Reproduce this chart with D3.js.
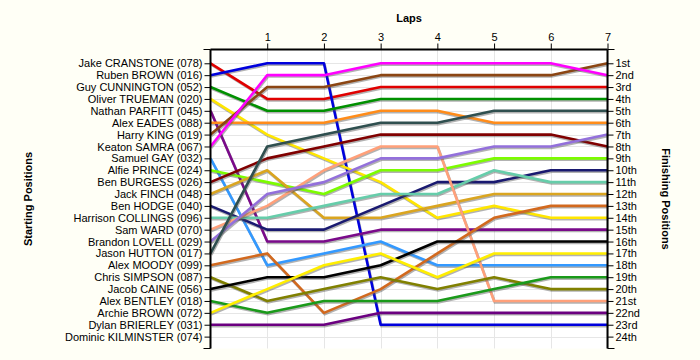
<!DOCTYPE html>
<html>
<head>
<meta charset="utf-8">
<script src="https://cdn.jsdelivr.net/npm/d3@7"></script>
<style>
  body { margin: 0; background: #fffff6; }
  svg { display: block; font-family: "Liberation Sans", Arial, sans-serif; }
</style>
</head>
<body>
<div id="chart"></div>
<script>
// drivers in starting order
const drivers = [
  'Jake CRANSTONE (078)', 'Ruben BROWN (016)', 'Guy CUNNINGTON (052)', 'Oliver TRUEMAN (020)',
  'Nathan PARFITT (045)', 'Alex EADES (088)', 'Harry KING (019)', 'Keaton SAMRA (067)',
  'Samuel GAY (032)', 'Alfie PRINCE (024)', 'Ben BURGESS (026)', 'Jack FINCH (048)',
  'Ben HODGE (040)', 'Harrison COLLINGS (096)', 'Sam WARD (070)', 'Brandon LOVELL (029)',
  'Jason HUTTON (017)', 'Alex MOODY (099)', 'Chris SIMPSON (087)', 'Jacob CAINE (056)',
  'Alex BENTLEY (018)', 'Archie BROWN (072)', 'Dylan BRIERLEY (031)', 'Dominic KILMINSTER (074)'
];

// position of each driver at lap 0..7 (null = no laps recorded)
const positions = [
  [1, 4, 4, 3, 3, 3, 3, 3],
  [2, 1, 1, 23, 23, 23, 23, 23],
  [3, 5, 5, 4, 4, 4, 4, 4],
  [4, 7, 9, 11, 14, 13, 14, 14],
  [5, 16, 16, 15, 15, 15, 15, 15],
  [6, 6, 6, 5, 5, 6, 6, 6],
  [7, 3, 3, 2, 2, 2, 2, 1],
  [8, 2, 2, 1, 1, 1, 1, 2],
  [9, 18, 17, 16, 18, 18, 18, 18],
  [10, 11, 12, 10, 10, 9, 9, 9],
  [11, 9, 8, 7, 7, 7, 7, 8],
  [12, 10, 14, 14, 13, 12, 12, 12],
  [13, 15, 15, 13, 11, 11, 10, 10],
  [14, 14, 13, 12, 12, 10, 11, 11],
  [15, 13, 10, 8, 8, 21, 21, 21],
  [16, 12, 11, 9, 9, 8, 8, 7],
  [17, 8, 7, 6, 6, 5, 5, 5],
  [18, 17, 22, 20, 17, 14, 13, 13],
  [19, 21, 20, 19, 20, 19, 20, 20],
  [20, 19, 19, 18, 16, 16, 16, 16],
  [21, 22, 21, 21, 21, 20, 19, 19],
  [22, 20, 18, 17, 19, 17, 17, 17],
  [23, 23, 23, 22, 22, 22, 22, 22],
  null
];

const colors = [
  '#e00000', '#0000dd', '#009000', '#ffe600', '#7a0a8a', '#ff8c1a', '#8b4513', '#ff00ff',
  '#3399ff', '#7cfc00', '#800000', '#daa520', '#191970', '#66cdaa', '#ffa07a', '#9370db',
  '#2f4f4f', '#d2691e', '#808000', '#000000', '#1a9a1a', '#ffee00', '#6b0080', '#999999'
];

const laps = [0, 1, 2, 3, 4, 5, 6, 7];
const finishLabels = ['1st', '2nd', '3rd', '4th', '5th', '6th', '7th', '8th', '9th', '10th',
  '11th', '12th', '13th', '14th', '15th', '16th', '17th', '18th', '19th', '20th',
  '21st', '22nd', '23rd', '24th'];

const width = 700, height = 360;
const plotTop = 49.5, plotBottom = 348.5, plotLeft = 210.5, plotRight = 607.5;

const svg = d3.select('#chart').append('svg')
  .attr('width', width).attr('height', height);

svg.append('rect').attr('width', width).attr('height', height).attr('fill', '#fffff6');

const x = d3.scaleLinear().domain([0, 7]).range([plotLeft, plotRight]);
const y = d3.scaleLinear().domain([-0.16, 25]).range([plotTop, plotBottom]);

svg.append('rect')
  .attr('x', plotLeft).attr('y', plotTop)
  .attr('width', plotRight - plotLeft).attr('height', plotBottom - plotTop)
  .attr('fill', '#ffffff');

// grid
const grid = svg.append('g').attr('stroke', '#e6e6e6').attr('stroke-width', 1);
grid.selectAll('.h').data(d3.range(1, 25)).join('line')
  .attr('x1', plotLeft).attr('x2', plotRight)
  .attr('y1', d => Math.round(y(d)) + 0.5).attr('y2', d => Math.round(y(d)) + 0.5);
grid.selectAll('.v').data(laps.slice(1)).join('line')
  .attr('y1', plotTop).attr('y2', plotBottom)
  .attr('x1', d => Math.round(x(d)) + 0.5).attr('x2', d => Math.round(x(d)) + 0.5);

// lines (with a soft drop shadow)
const series = positions
  .map((p, i) => p ? { name: drivers[i], color: colors[i], pts: p.map((v, lap) => [lap, v]) } : null)
  .filter(d => d);

const line = d3.line().x(d => x(d[0])).y(d => y(d[1]));

const lineG = svg.append('g');
series.forEach(s => {
  lineG.append('path')
    .attr('d', line(s.pts))
    .attr('transform', 'translate(0.8,1.4)')
    .attr('fill', 'none')
    .attr('stroke', '#555')
    .attr('stroke-opacity', 0.45)
    .attr('stroke-width', 2.6);
  lineG.append('path')
    .attr('d', line(s.pts))
    .attr('fill', 'none')
    .attr('stroke', s.color)
    .attr('stroke-width', 2.6)
    .attr('stroke-linejoin', 'round');
});

// axes
const tickSize = 6;
const leftAxis = d3.axisLeft(y)
  .tickValues(d3.range(1, 25))
  .tickFormat(d => drivers[d - 1])
  .tickSize(tickSize).tickPadding(2);
const rightAxis = d3.axisRight(y)
  .tickValues(d3.range(1, 25))
  .tickFormat(d => finishLabels[d - 1])
  .tickSize(tickSize).tickPadding(2);
const topAxis = d3.axisTop(x)
  .tickValues(laps.slice(1))
  .tickFormat(d3.format('d'))
  .tickSize(tickSize).tickPadding(3);

function style(g) {
  g.select('.domain').remove();
  g.selectAll('.tick line').attr('stroke', '#000');
  g.selectAll('.tick text').attr('fill', '#000').attr('font-size', 11)
    .attr('font-family', '"Liberation Sans", Arial, sans-serif');
}

svg.append('g').attr('transform', `translate(${plotLeft},0)`).call(leftAxis).call(style);
svg.append('g').attr('transform', `translate(${plotRight},0)`).call(rightAxis).call(style);
svg.append('g').attr('transform', `translate(0,${plotTop})`).call(topAxis).call(style);

const axisG = svg.append('g').attr('stroke', '#000').attr('stroke-width', 2);
axisG.append('line').attr('x1', plotLeft).attr('x2', plotLeft).attr('y1', plotTop).attr('y2', plotBottom);
axisG.append('line').attr('x1', plotRight).attr('x2', plotRight).attr('y1', plotTop).attr('y2', plotBottom);
axisG.append('line').attr('x1', plotLeft).attr('x2', plotRight).attr('y1', plotTop).attr('y2', plotTop);
// end ticks
[[plotLeft - 7, plotLeft, plotTop], [plotLeft - 7, plotLeft, plotBottom],
 [plotRight, plotRight + 7, plotTop], [plotRight, plotRight + 7, plotBottom]].forEach(t => {
  axisG.append('line').attr('x1', t[0]).attr('x2', t[1]).attr('y1', t[2]).attr('y2', t[2])
    .attr('stroke-width', 1);
});

// titles
svg.append('text')
  .attr('x', (plotLeft + plotRight) / 2).attr('y', 22)
  .attr('text-anchor', 'middle')
  .attr('font-size', 11).attr('font-weight', 'bold')
  .text('Laps');

const midY = (plotTop + plotBottom) / 2;
svg.append('text')
  .attr('transform', `translate(32,${midY}) rotate(-90)`)
  .attr('text-anchor', 'middle')
  .attr('font-size', 11).attr('font-weight', 'bold')
  .text('Starting Positions');

svg.append('text')
  .attr('transform', `translate(662,${midY}) rotate(90)`)
  .attr('text-anchor', 'middle')
  .attr('font-size', 11).attr('font-weight', 'bold')
  .text('Finishing Positions');
</script>
</body>
</html>
